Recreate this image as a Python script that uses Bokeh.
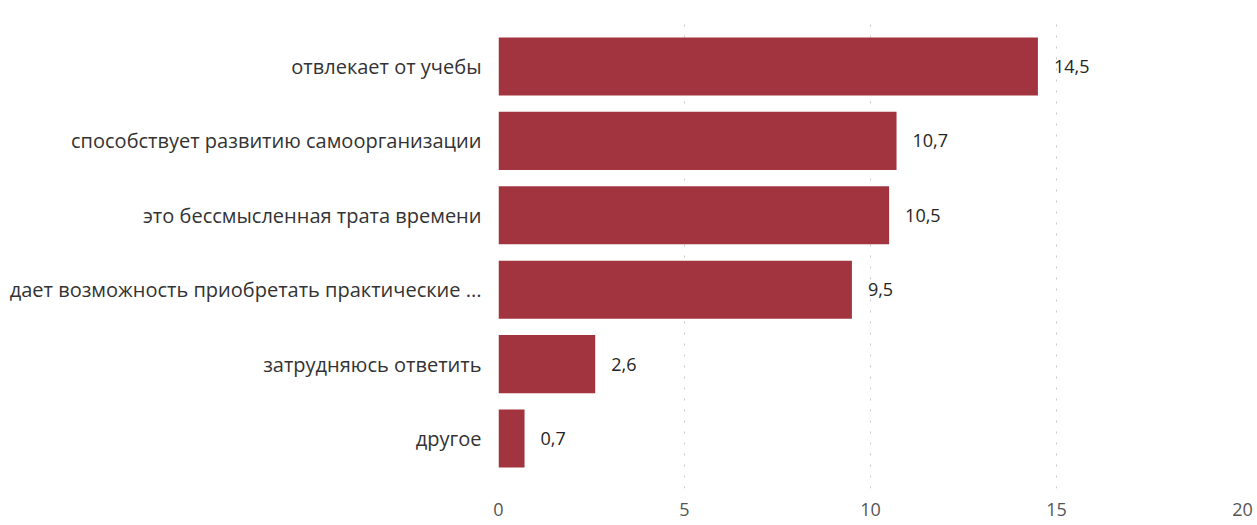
from bokeh.plotting import figure
from bokeh.models import ColumnDataSource, FactorRange, Range1d, FixedTicker
from bokeh.core.properties import value
from bokeh.embed import file_html
from bokeh.resources import INLINE

categories = [
    "отвлекает от учебы",
    "способствует развитию самоорганизации",
    "это бессмысленная трата времени",
    "дает возможность приобретать практические ...",
    "затрудняюсь ответить",
    "другое",
]
values = [14.5, 10.7, 10.5, 9.5, 2.6, 0.7]
x_ticks = [0, 5, 10, 15, 20]

labels = [f"{v:.1f}".replace(".", ",") for v in values]
src = ColumnDataSource(dict(cat=categories, val=values, lab=labels))

FONT = "Open Sans"

y_range = FactorRange(*list(reversed(categories)), range_padding=0.057)
p = figure(width=1257, height=525, y_range=y_range, x_range=Range1d(0, 20),
           output_backend="svg", toolbar_location=None,
           min_border_left=498, min_border_right=15, min_border_top=16, min_border_bottom=37)
p.outline_line_color = None
p.background_fill_color = "white"
p.border_fill_color = "white"

p.hbar(y="cat", right="val", left=0, height=0.78, source=src,
       fill_color="#A1343F", line_color=None)
p.text(x="val", y="cat", text="lab", source=src, x_offset=16,
       text_baseline="middle", text_align="left",
       text_font=value(FONT), text_font_size="18px", text_color="#252423")

p.xaxis.ticker = FixedTicker(ticks=x_ticks)
p.xaxis.axis_line_color = None
p.xaxis.major_tick_line_color = None
p.xaxis.minor_tick_line_color = None
p.xaxis.major_label_text_font = FONT
p.xaxis.major_label_text_font_size = "18px"
p.xaxis.major_label_text_color = "#555555"
p.xaxis.major_label_standoff = 8

p.yaxis.axis_line_color = None
p.yaxis.major_tick_line_color = None
p.yaxis.minor_tick_line_color = None
p.yaxis.major_label_text_font = FONT
p.yaxis.major_label_text_font_size = "20px"
p.yaxis.major_label_text_color = "#333333"
p.yaxis.major_label_standoff = 11

p.ygrid.grid_line_color = None
p.xgrid.grid_line_color = "#c8c8c8"
p.xgrid.grid_line_dash = "2 9"
p.xgrid.grid_line_width = 1

open("out.html", "w").write(file_html(p, INLINE))
